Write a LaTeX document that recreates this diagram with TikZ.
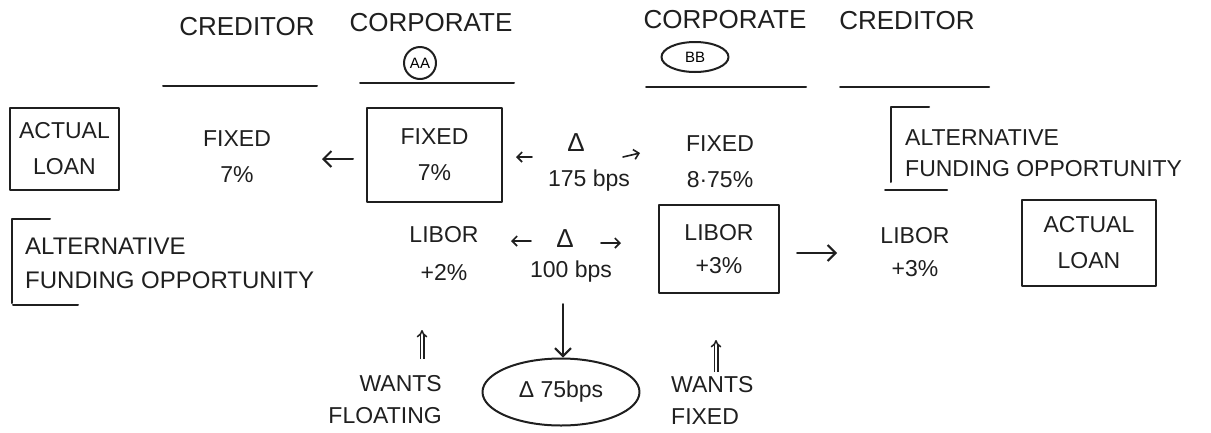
\documentclass[tikz,border=0pt]{standalone}
\usepackage{fontspec}
\setmainfont{Liberation Sans}
\usetikzlibrary{arrows.meta,shapes.geometric}
\begin{document}
\begin{tikzpicture}[x=1pt,y=-1pt,
  ink/.style={line width=2pt, line cap=round, line join=round, draw=black!88},
  txt/.style={font=\fontsize{23}{36}\selectfont, align=center, inner sep=2pt, text=black!88},
  head/.style={txt, font=\fontsize{26}{30}\selectfont},
  alttxt/.style={font=\fontsize{23}{31}\selectfont, align=left, inner sep=0pt, text=black!88},
  box/.style={draw, ink, txt, inner sep=0pt},
  arr/.style={ink, -{Straight Barb[length=8pt,width=16pt]}},
  sarr/.style={ink, line width=1.6pt, -{Straight Barb[length=5pt,width=10pt]}},
  dbl/.style={draw=black!88, double=white, double distance=2pt, line width=1.5pt, -{Implies[length=6pt]}},
  rule/.style={ink}
]
\useasboundingbox (0,0) rectangle (1211,432);

% headers
\node[head] (hCredL) at (247,27) {CREDITOR};
\node[head] (hCorpL) at (431,23) {CORPORATE};
\node[draw, ink, circle, minimum size=32pt, inner sep=0pt, font=\fontsize{15}{15}\selectfont] (aa) at (420,63) {AA};
\node[head] (hCorpR) at (725,20) {CORPORATE};
\node[draw, ink, ellipse, minimum width=67pt, minimum height=30pt, inner sep=0pt, font=\fontsize{15}{15}\selectfont] (bb) at (695,57) {BB};
\node[head] (hCredR) at (907,21) {CREDITOR};

\draw[rule] (163,86) -- (317,86);
\draw[rule] (360,83) -- (514,83);
\draw[rule] (646,87) -- (806,87);
\draw[rule] (840,87) -- (989,87);

% row 1
\node[box, minimum width=109pt, minimum height=82pt] (loanL) at (64.5,149) {ACTUAL\\LOAN};
\node[txt] (fixA) at (237,157) {FIXED\\7\%};
\node[box, minimum width=135pt, minimum height=94pt] (boxAA) at (434.5,155) {FIXED\\7\%};
\coordinate (a1s) at (353,159);
\coordinate (a1e) at (322,159);
\draw[arr] (a1s) -- (a1e);

\node[txt, font=\fontsize{26}{26}\selectfont] (d1) at (576,143) {Δ};
\node[txt] (bps1) at (589,181) {175 bps};
\coordinate (d1l) at (532,157);
\coordinate (d1le) at (516,157);
\coordinate (d1r) at (623,157);
\coordinate (d1re) at (640,153);
\draw[sarr] (d1l) -- (d1le);
\draw[sarr] (d1r) -- (d1re);

\node[txt] (fixB) at (720,162) {FIXED\\8·75\%};

\node[alttxt, anchor=west] (altR) at (905,153) {ALTERNATIVE\\FUNDING OPPORTUNITY};
\draw[rule] (929,107) -- (891,107) -- (891,182);
\draw[rule] (885,190) -- (947,190);

% row 2
\node[alttxt, anchor=west, font=\fontsize{24}{34}\selectfont] (altL) at (25,263) {ALTERNATIVE\\FUNDING OPPORTUNITY};
\draw[rule] (50,219) -- (12,219) -- (12,303);
\draw[rule] (13,305) -- (78,305);

\node[txt, font=\fontsize{23}{38}\selectfont] (liborA) at (444,254) {LIBOR\\+2\%};
\node[txt, font=\fontsize{26}{26}\selectfont] (d2) at (565,239) {Δ};
\node[txt] (bps2) at (571,272) {100 bps};
\coordinate (d2l) at (531,241);
\coordinate (d2le) at (511,241);
\coordinate (d2r) at (601,243);
\coordinate (d2re) at (621,243);
\draw[sarr] (d2l) -- (d2le);
\draw[sarr] (d2r) -- (d2re);

\node[box, minimum width=120pt, minimum height=88pt, font=\fontsize{23}{33}\selectfont] (boxBB) at (719,249) {LIBOR\\+3\%};
\node[txt, font=\fontsize{23}{33}\selectfont] (liborB) at (915,252) {LIBOR\\+3\%};
\coordinate (a2s) at (797,253);
\coordinate (a2e) at (837,253);
\draw[arr] (a2s) -- (a2e);

\node[box, minimum width=134pt, minimum height=86pt] (loanR) at (1089,243) {ACTUAL\\LOAN};

% bottom
\node[draw, ink, ellipse, minimum width=157pt, minimum height=67pt, inner sep=0pt, txt] (ell) at (561,392) {Δ 75bps};
\coordinate (dn) at (563,304);
\draw[arr] (dn) -- (ell.north -| dn);

\node[txt, align=right, anchor=east, inner sep=0pt, font=\fontsize{23}{32}\selectfont] (wantsL) at (442,400) {WANTS\\FLOATING};
\coordinate (upL) at (422,359);
\coordinate (upLe) at (422,330);
\draw[dbl] (upL) -- (upLe);

\node[txt, align=left, anchor=west, inner sep=0pt, font=\fontsize{23}{32}\selectfont] (wantsR) at (671,400) {WANTS\\FIXED};
\coordinate (upR) at (716,372);
\coordinate (upRe) at (716,340);
\draw[dbl] (upR) -- (upRe);
\end{tikzpicture}
\end{document}
